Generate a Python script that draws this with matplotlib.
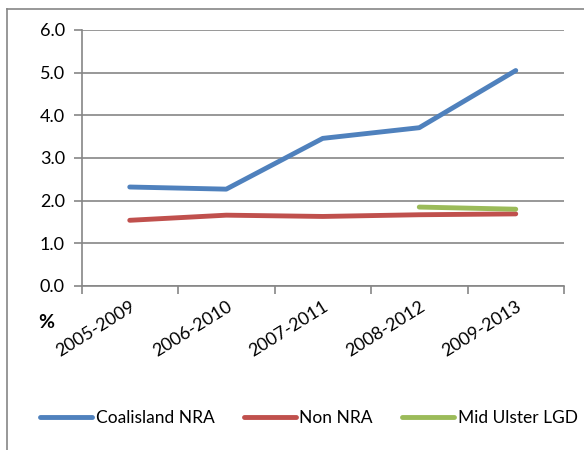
import numpy as np
import matplotlib.pyplot as plt
from matplotlib.lines import Line2D

# Datos del grafico
periods = ['2005-2009', '2006-2010', '2007-2011', '2008-2012', '2009-2013']
coalisland_nra = [2.32, 2.27, 3.46, 3.71, 5.05]
non_nra = [1.54, 1.66, 1.63, 1.67, 1.69]
mid_ulster_lgd = [np.nan, np.nan, np.nan, 1.85, 1.80]
y_ticks = [0.0, 1.0, 2.0, 3.0, 4.0, 5.0, 6.0]

plt.rcParams['font.family'] = ['Lato', 'DejaVu Sans']
plt.rcParams['font.size'] = 13

fig = plt.figure(figsize=(5.84, 4.5), dpi=100)
ax = fig.add_axes([81.5 / 584, 1 - 286 / 450, (564 - 81.5) / 584, (286 - 30) / 450])

x = np.arange(len(periods))
line_kw = dict(linewidth=3.5, solid_capstyle='round', solid_joinstyle='round')
ax.plot(x, coalisland_nra, color='#4F81BD', label='Coalisland NRA', **line_kw)
ax.plot(x, non_nra, color='#C0504D', label='Non NRA', **line_kw)
ax.plot(x, mid_ulster_lgd, color='#9BBB59', label='Mid Ulster LGD', **line_kw)

grid_color = '#868686'
ax.set_xlim(-0.5, len(periods) - 0.5)
ax.set_ylim(0, 6)
ax.set_yticks(y_ticks)
ax.set_yticklabels([f'{v:.1f}' for v in y_ticks])
ax.yaxis.grid(True, color=grid_color, linewidth=1.2)
ax.set_axisbelow(True)

# Ticks de categorias en los bordes
ax.set_xticks(np.arange(-0.5, len(periods)), minor=False)
ax.set_xticklabels([])
ax.set_xticks(x, minor=True)
ax.set_xticklabels(periods, minor=True, rotation=32, ha='right',
                   rotation_mode='anchor')
ax.tick_params(axis='x', which='major', length=6, color=grid_color, width=1.2)
ax.tick_params(axis='x', which='minor', length=0, pad=9)
ax.tick_params(axis='y', length=6, color=grid_color, width=1.2, pad=6)

for side in ['top', 'right']:
    ax.spines[side].set_visible(False)
for side in ['left', 'bottom']:
    ax.spines[side].set_color(grid_color)
    ax.spines[side].set_linewidth(1.2)

fig.text(38 / 584, 1 - 323 / 450, '%', fontsize=14, fontweight='bold',
         va='center', ha='left')

fig.legend(loc='center left', bbox_to_anchor=(40 / 584, 1 - 418 / 450),
           ncol=3, frameon=False, fontsize=12.5, handlelength=3.0,
           handletextpad=0.2, columnspacing=1.7, borderaxespad=0, borderpad=0)

# Marco exterior
fig.add_artist(Line2D([7 / 584, 7 / 584], [0, 1 - 9 / 450], color=grid_color, linewidth=1.2))
fig.add_artist(Line2D([7 / 584, 1], [1 - 9 / 450, 1 - 9 / 450], color=grid_color, linewidth=1.2))

fig.savefig('out.png', dpi=100)
